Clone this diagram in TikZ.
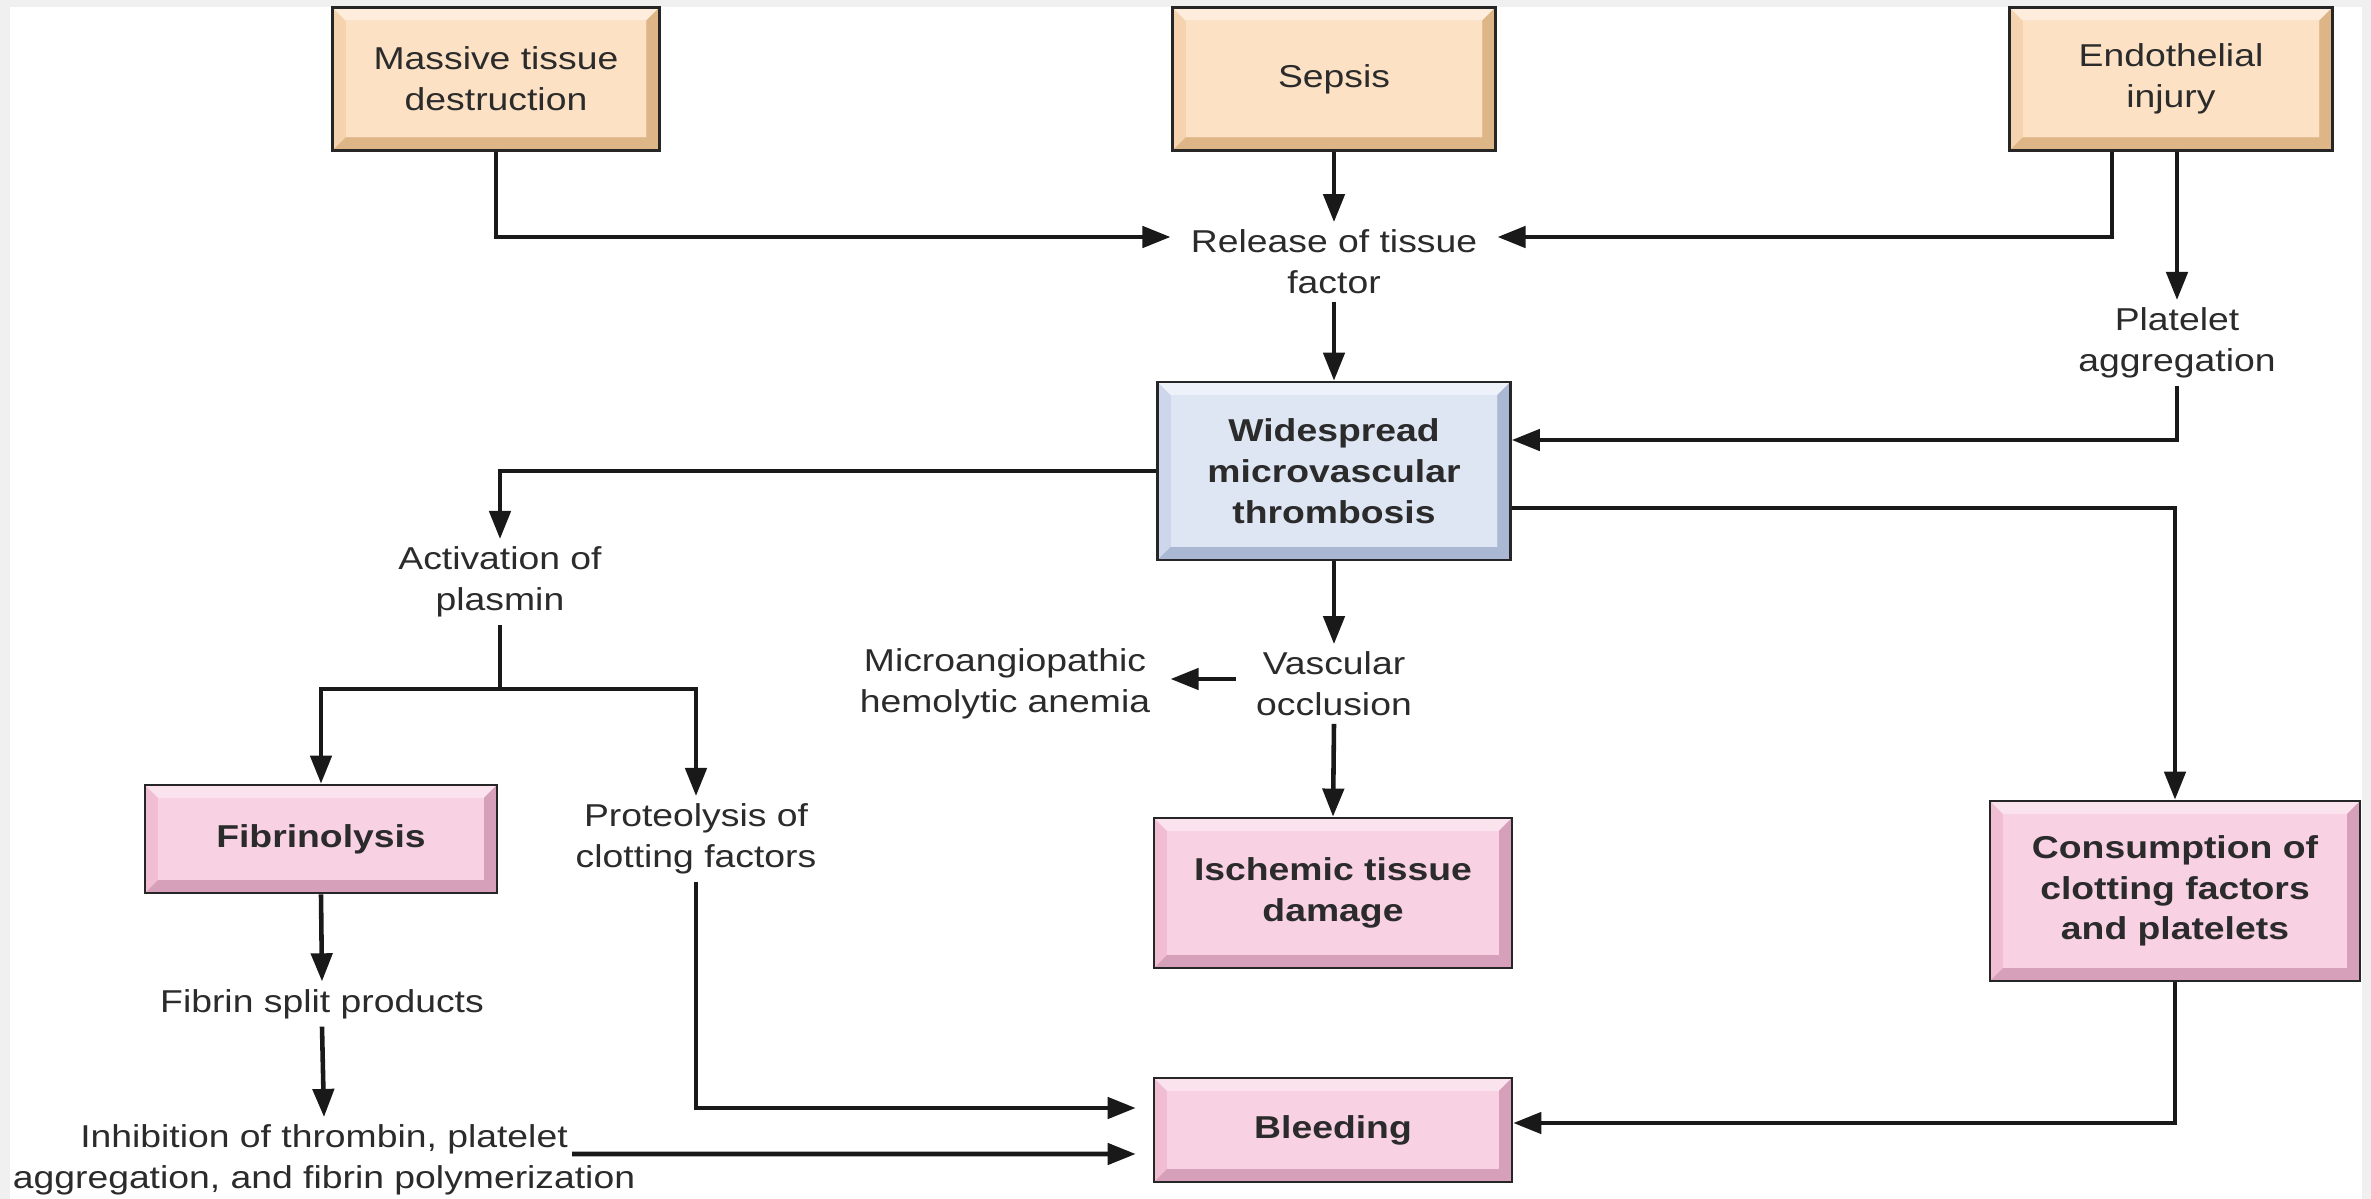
\documentclass[tikz,border=0pt]{standalone}
\usepackage{fontspec}
\setmainfont{Liberation Sans}[FakeStretch=1.18]
\usetikzlibrary{arrows.meta}

\definecolor{framegray}{HTML}{F0F0F0}
\definecolor{txtgray}{HTML}{2B2B2B}
\definecolor{tanface}{HTML}{FCE1C4}
\definecolor{tanlit}{HTML}{FEEDDC}
\definecolor{tanside}{HTML}{F5D3AE}
\definecolor{tandark}{HTML}{DDB586}
\definecolor{blueface}{HTML}{DFE6F3}
\definecolor{bluelit}{HTML}{EDF1F9}
\definecolor{blueside}{HTML}{CDD6EA}
\definecolor{bluedark}{HTML}{AAB8D4}
\definecolor{pinkface}{HTML}{F8D2E3}
\definecolor{pinklit}{HTML}{FBE3EE}
\definecolor{pinkside}{HTML}{F0BDD3}
\definecolor{pinkdark}{HTML}{D6A0BA}

\newcommand{\dgfont}{\fontsize{18pt}{23.2pt}\selectfont}

% bevel of the boxes: light top, dark right and bottom, flat face
\newcommand{\bevw}{0.26cm}
\newcommand{\bevel}[3]{%
  \coordinate (bnw) at (path picture bounding box.north west);
  \coordinate (bne) at (path picture bounding box.north east);
  \coordinate (bsw) at (path picture bounding box.south west);
  \coordinate (bse) at (path picture bounding box.south east);
  \fill[#1] (bnw) -- (bne) -- ([shift={(-\bevw,-\bevw)}]bne) -- ([shift={(\bevw,-\bevw)}]bnw) -- cycle;
  \fill[#2] (bne) -- (bse) -- ([shift={(-\bevw,\bevw)}]bse) -- ([shift={(-\bevw,-\bevw)}]bne) -- cycle;
  \fill[#2] (bsw) -- (bse) -- ([shift={(-\bevw,\bevw)}]bse) -- ([shift={(\bevw,\bevw)}]bsw) -- cycle;
  \fill[#3] ([shift={(\bevw,-\bevw)}]bnw) rectangle ([shift={(-\bevw,\bevw)}]bse);
}

\tikzset{
  box/.style={draw=black!85, line width=1.5pt, align=center, inner sep=0pt},
  tanbox/.style={box, fill=tanside, path picture={\bevel{tanlit}{tandark}{tanface}}},
  bluebox/.style={box, fill=blueside, font={\dgfont\bfseries}, path picture={\bevel{bluelit}{bluedark}{blueface}}},
  pinkbox/.style={box, fill=pinkside, font={\dgfont\bfseries}, path picture={\bevel{pinklit}{pinkdark}{pinkface}}},
  txt/.style={align=center, inner xsep=0.4cm, inner ysep=0.15cm},
  arr/.style={-{Triangle[length=16pt,width=12pt]}, line width=2.6pt, draw=black!90},
  link/.style={line width=2.6pt, draw=black!90}
}

\begin{document}
\begin{tikzpicture}[x=0.02cm, y=-0.02cm, font=\dgfont, text=txtgray]
    % Frame
    \useasboundingbox (0,0) rectangle (2371,1199);
    \fill[framegray] (0,0) rectangle (2371,1199);
    \fill[white] (10,7) rectangle (2362,1199);

    % Causes
    \node[tanbox, minimum width=6.54cm, minimum height=2.86cm] (mass) at (496,79) {Massive tissue\\destruction};
    \node[tanbox, minimum width=6.46cm, minimum height=2.86cm] (sepsis) at (1334,79) {Sepsis};
    \node[tanbox, minimum width=6.46cm, minimum height=2.86cm] (endo) at (2171,79) {Endothelial\\injury};

    \node[txt] (rel) at (1334,262) {Release of tissue\\factor};
    \node[txt] (plt) at (2177,343) {Platelet\\aggregation};

    % Thrombosis
    \node[bluebox, minimum width=7.06cm, minimum height=3.56cm] (wide) at (1334,471) {Widespread\\microvascular\\thrombosis};

    \node[txt] (act) at (500,582) {Activation of\\plasmin};
    \node[txt] (vasc) at (1334,684) {Vascular\\occlusion};
    \node[txt] (micro) at (1005,684) {Microangiopathic\\hemolytic anemia};

    % Consequences
    \node[pinkbox, minimum width=7.04cm, minimum height=2.16cm] (fibr) at (321,839) {Fibrinolysis};
    \node[txt] (prot) at (696,839) {Proteolysis of\\clotting factors};
    \node[pinkbox, minimum width=7.16cm, minimum height=3.0cm] (isch) at (1333,893) {Ischemic tissue\\damage};
    \node[pinkbox, minimum width=7.4cm, minimum height=3.6cm] (cons) at (2175,891) {Consumption of\\clotting factors\\and platelets};
    \node[txt] (split) at (322,1004) {Fibrin split products};
    \node[txt] (inhib) at (324,1160) {Inhibition of thrombin, platelet\\aggregation, and fibrin polymerization};
    \node[pinkbox, minimum width=7.16cm, minimum height=2.08cm] (bleed) at (1333,1130) {Bleeding};

    % Arrows
    \draw[arr] (mass.south) |- ([yshift=0.5cm]rel.west);
    \draw[arr] ([xshift=-1.18cm]endo.south) |- ([yshift=0.5cm]rel.east);
    \draw[arr] (sepsis.south) -- (rel.north);
    \draw[arr] (endo.south -| plt.north) -- (plt.north);
    \draw[arr] (rel.south) -- (wide.north);
    \draw[arr] (plt.south) |- ([yshift=0.62cm]wide.east);

    \draw[arr] (wide.west) -| (act.north);
    \draw[arr] ([yshift=-0.74cm]wide.east) -| (cons.north);
    \draw[arr] (wide.south) -- (vasc.north);
    \draw[arr] ([yshift=0.1cm]vasc.west) -- ([yshift=0.1cm]micro.east);
    \draw[arr] (vasc.south) -- (isch.north);

    \coordinate (fork) at (500,689);
    \draw[link] (act.south) -- (fork);
    \draw[arr] (fork) -| (fibr.north);
    \draw[arr] (fork) -| (prot.north);

    \draw[arr] (fibr.south) -- (split.north);
    \draw[arr] (split.south) -- (inhib.north);

    \coordinate (inhout) at (572,1154);
    \coordinate (bleedin) at ([xshift=-0.34cm,yshift=-0.48cm]bleed.west);
    \draw[arr] (inhout) -- (bleedin);
    \draw[arr] (prot.south) |- ([xshift=-0.34cm,yshift=0.44cm]bleed.west);
    \draw[arr] (cons.south) |- ([yshift=0.14cm]bleed.east);
\end{tikzpicture}
\end{document}
